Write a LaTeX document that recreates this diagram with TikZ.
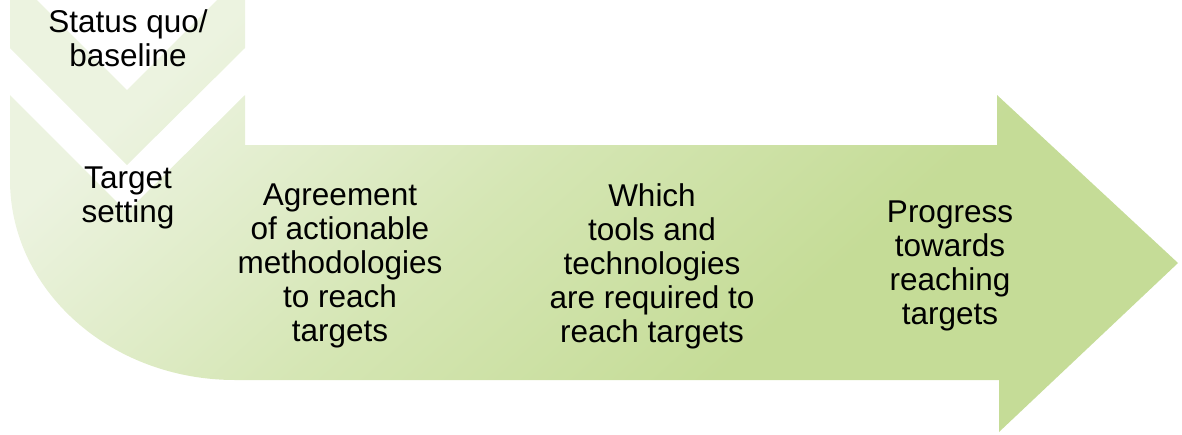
\documentclass[tikz,border=0pt]{standalone}
\usepackage{fontspec}
\setmainfont{Liberation Sans}
\definecolor{shA}{HTML}{ECF3E0}
\definecolor{shB}{HTML}{D5E6B4}
\definecolor{shC}{HTML}{C5DC97}
\pgfdeclarehorizontalshading{arrowfill}{100bp}{color(0bp)=(shA); color(25bp)=(shA); color(45bp)=(shB); color(63bp)=(shC); color(100bp)=(shC)}
\tikzset{
  band/.style={shading=arrowfill, shading angle=-48, draw=none},
  lbl/.style={align=center, inner sep=0pt, font=\fontsize{31.5}{34}\selectfont, text=black}
}
\begin{document}
\begin{tikzpicture}[x=1pt, y=-1pt]
\useasboundingbox (0,0) rectangle (1182,434);
% one shading over the whole figure: both parts in one path
\path[band]
  (10,0) -- (37,0) -- (127,90) -- (217,0) -- (245,0) -- (245,48) -- (127,165) -- (10,48) -- cycle
  (10,95) -- (127,212) -- (245,95) -- (245,145) -- (997,145) -- (997,95) -- (1178,263)
  -- (999,432) -- (999,380) -- (235,380)
  .. controls (110.7,380) and (10,290.5) .. (10,180) -- cycle;
\node[lbl] (status) at (128,38) {Status quo/\\baseline};
\node[lbl] (target) at (128,198) {Target\\setting};
\node[lbl] (agree) at (340,266) {Agreement\\of actionable\\methodologies\\to reach\\targets};
\node[lbl] (which) at (652,266) {Which\\tools and\\technologies\\are required to\\reach targets};
\node[lbl] (progress) at (950,266) {Progress\\towards\\reaching\\targets};
\end{tikzpicture}
\end{document}
